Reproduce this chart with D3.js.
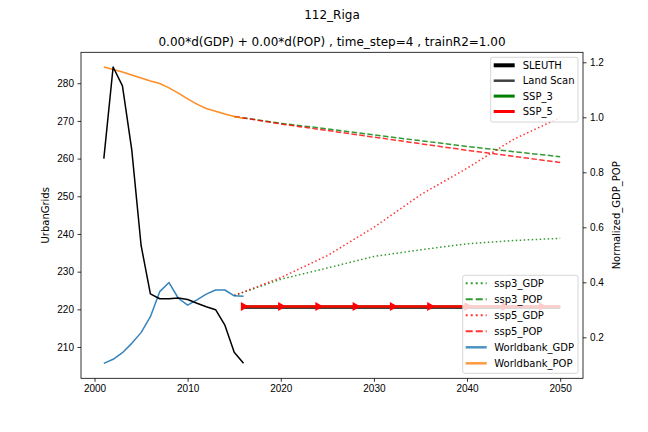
<!DOCTYPE html>
<html>
<head>
<meta charset="utf-8">
<script src="https://cdn.jsdelivr.net/npm/d3@7"></script>
<style>
  body { margin: 0; background: #fff; }
  svg { display: block; overflow: visible; font-family: "DejaVu Sans", sans-serif; }
  .tick text { font-size: 10px; fill: #000; }
</style>
</head>
<body>
<svg id="chart" width="648" height="432"></svg>
<script>
// UrbanGrids (left axis)
const urbanYears = [2001, 2002, 2003, 2004, 2005, 2006, 2007, 2008, 2009, 2010, 2011, 2012, 2013, 2014, 2015, 2016];
const landScan = [260.0, 284.3, 279.3, 262.3, 237.0, 224.1, 222.8, 222.8, 223.0, 222.6, 221.6, 220.7, 219.9, 215.8, 208.6, 205.7];

// SLEUTH / SSP runs, time_step = 4
const simYears = [2016, 2020, 2024, 2028, 2032, 2036, 2040, 2044, 2048, 2050];
const sleuth = [220.55, 220.55, 220.55, 220.55, 220.55, 220.55, 220.55, 220.55, 220.55, 220.55];
const ssp3Sim = [220.7, 220.7, 220.7, 220.7, 220.7, 220.7, 220.7, 220.7, 220.7, 220.7];
const ssp5Sim = [220.75, 220.75, 220.75, 220.75, 220.75, 220.75, 220.75, 220.75, 220.75, 220.75];

// Normalized GDP / POP (right axis)
const wbYears = urbanYears;
const wbGDP = [0.105, 0.120, 0.144, 0.178, 0.217, 0.275, 0.366, 0.399, 0.342, 0.317, 0.336, 0.357, 0.372, 0.372, 0.351, 0.349];
const wbPOP = [1.183, 1.174, 1.165, 1.154, 1.143, 1.132, 1.123, 1.107, 1.088, 1.067, 1.048, 1.032, 1.022, 1.012, 1.003, 0.996];

const sspYears = [2015, 2020, 2025, 2030, 2035, 2040, 2045, 2050];
const ssp3GDP = [0.352, 0.411, 0.452, 0.494, 0.518, 0.540, 0.552, 0.560];
const ssp3POP = [1.003, 0.978, 0.958, 0.936, 0.915, 0.894, 0.875, 0.857];
const ssp5GDP = [0.352, 0.417, 0.497, 0.600, 0.718, 0.815, 0.920, 0.999];
const ssp5POP = [1.003, 0.976, 0.952, 0.928, 0.904, 0.880, 0.858, 0.836];

const xTicks = [2000, 2010, 2020, 2030, 2040, 2050];
const yTicks = [210, 220, 230, 240, 250, 260, 270, 280];
const y2Ticks = [0.2, 0.4, 0.6, 0.8, 1.0, 1.2];

const svg = d3.select("#chart");
const width = 648, height = 432;
const margin = { top: 52.3, right: 65, bottom: 53.7, left: 81 };
const innerWidth = width - margin.left - margin.right;
const innerHeight = height - margin.top - margin.bottom;

const xScale = d3.scaleLinear().domain([1998.55, 2052.45]).range([0, innerWidth]);
const yScale = d3.scaleLinear().domain([201.7, 288.2]).range([innerHeight, 0]);
const y2Scale = d3.scaleLinear().domain([0.0509, 1.2364]).range([innerHeight, 0]);

const g = svg.append("g").attr("transform", `translate(${margin.left},${margin.top})`);

const zip = (xs, ys) => xs.map((x, i) => [x, ys[i]]);
const lineL = d3.line().x(d => xScale(d[0])).y(d => yScale(d[1]));
const lineR = d3.line().x(d => xScale(d[0])).y(d => y2Scale(d[1]));

const drawLine = (gen, pts, color, lw, dash, opacity) => {
    g.append("path")
        .datum(pts)
        .attr("d", gen)
        .attr("fill", "none")
        .attr("stroke", color)
        .attr("stroke-width", lw)
        .attr("stroke-dasharray", dash || null)
        .attr("stroke-opacity", opacity || 1)
        .attr("stroke-linejoin", "round");
};

const dotted = "1.5,2.5";
const dashed = "5.5,2.4";

// right axis series
drawLine(lineR, zip(sspYears, ssp3GDP), "green", 1.5, dotted, 0.8);
drawLine(lineR, zip(sspYears, ssp3POP), "green", 1.5, dashed, 0.8);
drawLine(lineR, zip(sspYears, ssp5GDP), "red", 1.5, dotted, 0.8);
drawLine(lineR, zip(sspYears, ssp5POP), "red", 1.5, dashed, 0.8);
drawLine(lineR, zip(wbYears, wbGDP), "#1f77b4", 1.5, null, 0.9);
drawLine(lineR, zip(wbYears, wbPOP), "#ff7f0e", 1.5, null, 0.9);

// left axis series
drawLine(lineL, zip(urbanYears, landScan), "#000", 1.5);
drawLine(lineL, zip(simYears, sleuth), "#000", 3);
drawLine(lineL, zip(simYears, ssp3Sim), "green", 2.5);
drawLine(lineL, zip(simYears, ssp5Sim), "red", 2.5);

const tri = d3.symbol().type(d3.symbolTriangle).size(36);
g.selectAll(".marker")
    .data(zip(simYears, ssp5Sim).filter(d => (d[0] - 2016) % 4 === 0))
    .enter()
    .append("path")
    .attr("class", "marker")
    .attr("d", tri)
    .attr("fill", "red")
    .attr("transform", d => `translate(${xScale(d[0])},${yScale(d[1])}) rotate(90)`);

// axes
const xAxisG = g.append("g")
    .attr("transform", `translate(0,${innerHeight})`)
    .call(d3.axisBottom(xScale).tickValues(xTicks).tickFormat(d3.format("d")).tickSizeOuter(0).tickSize(3.5).tickPadding(3.5));
const yAxisG = g.append("g")
    .call(d3.axisLeft(yScale).tickValues(yTicks).tickFormat(d3.format("d")).tickSizeOuter(0).tickSize(3.5).tickPadding(3.5));
const y2AxisG = g.append("g")
    .attr("transform", `translate(${innerWidth},0)`)
    .call(d3.axisRight(y2Scale).tickValues(y2Ticks).tickFormat(d3.format(".1f")).tickSizeOuter(0).tickSize(3.5).tickPadding(3.5));
[xAxisG, yAxisG, y2AxisG].forEach(a => {
    a.selectAll(".domain").remove();
    a.selectAll(".tick line").attr("stroke-width", 0.8);
});

g.append("rect")
    .attr("width", innerWidth)
    .attr("height", innerHeight)
    .attr("fill", "none")
    .attr("stroke", "#000")
    .attr("stroke-width", 0.8);

// labels
svg.append("text")
    .attr("transform", `translate(49,${margin.top + innerHeight / 2}) rotate(-90)`)
    .attr("text-anchor", "middle")
    .attr("font-size", 10)
    .text("UrbanGrids");
svg.append("text")
    .attr("transform", `translate(620,${margin.top + innerHeight / 2}) rotate(-90)`)
    .attr("text-anchor", "middle")
    .attr("font-size", 10)
    .text("Normalized_GDP_POP");
svg.append("text")
    .attr("x", margin.left + innerWidth / 2)
    .attr("y", 19)
    .attr("text-anchor", "middle")
    .attr("font-size", 12)
    .text("112_Riga");
svg.append("text")
    .attr("x", margin.left + innerWidth / 2)
    .attr("y", 46)
    .attr("text-anchor", "middle")
    .attr("font-size", 12)
    .text("0.00*d(GDP) + 0.00*d(POP) , time_step=4 , trainR2=1.00");

// legends
const drawLegend = (x, y, w, h, items, rowH, handleX, textX) => {
    const lg = svg.append("g").attr("transform", `translate(${x},${y})`);
    lg.append("rect")
        .attr("width", w).attr("height", h)
        .attr("rx", 2)
        .attr("fill", "#fff").attr("fill-opacity", 0.8)
        .attr("stroke", "#ccc").attr("stroke-width", 0.8);
    items.forEach((it, i) => {
        const cy = 8 + i * rowH;
        lg.append("line")
            .attr("x1", handleX).attr("x2", handleX + 21)
            .attr("y1", cy).attr("y2", cy)
            .attr("stroke", it.color)
            .attr("stroke-width", it.lw)
            .attr("stroke-opacity", it.opacity || 1)
            .attr("stroke-dasharray", it.dash || null);
        lg.append("text")
            .attr("x", textX).attr("y", cy + 3.5)
            .attr("font-size", 10)
            .text(it.label);
    });
};

drawLegend(490.7, 57.3, 87.3, 64.7, [
    { label: "SLEUTH", color: "#000", lw: 4 },
    { label: "Land Scan", color: "#404040", lw: 2.5 },
    { label: "SSP_3", color: "green", lw: 3 },
    { label: "SSP_5", color: "red", lw: 3 }
], 15.4, 3, 32);

drawLegend(462.7, 275.3, 115.3, 98, [
    { label: "ssp3_GDP", color: "green", lw: 2, dash: "2,3", opacity: 0.8 },
    { label: "ssp3_POP", color: "green", lw: 2, dash: "7,3", opacity: 0.8 },
    { label: "ssp5_GDP", color: "red", lw: 2, dash: "2,3", opacity: 0.8 },
    { label: "ssp5_POP", color: "red", lw: 2, dash: "7,3", opacity: 0.8 },
    { label: "Worldbank_GDP", color: "#1f77b4", lw: 2.5, opacity: 0.8 },
    { label: "Worldbank_POP", color: "#ff7f0e", lw: 2.5, opacity: 0.8 }
], 16, 3, 31.6);
</script>
</body>
</html>
